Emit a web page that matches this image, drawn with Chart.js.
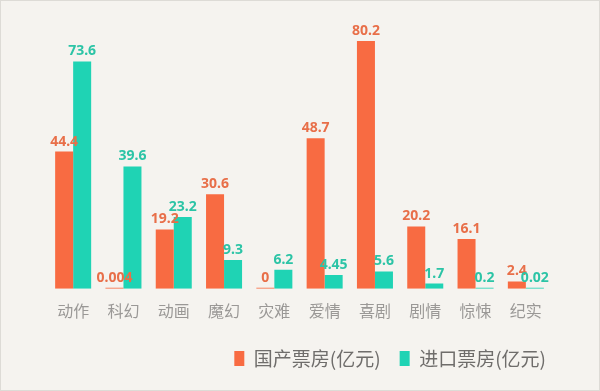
<!DOCTYPE html>
<html>
<head>
<meta charset="utf-8">
<script src="https://cdn.jsdelivr.net/npm/chart.js@4/dist/chart.umd.min.js"></script>
<style>
  html, body { margin: 0; padding: 0; background: #f5f3ef; }
  #wrap { width: 598px; height: 389px; border: 1px solid #dddbd6; background: #f5f3ef; }
</style>
</head>
<body>
<div id="wrap"><canvas id="bar-chart" width="598" height="389"></canvas></div>
<script>
// categories and box office values (100 million yuan)
var genres = ['动作', '科幻', '动画', '魔幻', '灾难', '爱情', '喜剧', '剧情', '惊悚', '纪实'];
var domestic = [44.4, 0.004, 19.2, 30.6, 0, 48.7, 80.2, 20.2, 16.1, 2.4];
var imported = [73.6, 39.6, 23.2, 9.3, 6.2, 4.45, 5.6, 1.7, 0.2, 0.02];
var domesticLabels = ['44.4', '0.004', '19.2', '30.6', '0', '48.7', '80.2', '20.2', '16.1', '2.4'];
var importedLabels = ['73.6', '39.6', '23.2', '9.3', '6.2', '4.45', '5.6', '1.7', '0.2', '0.02'];

var orange = '#f86b42';
var teal = '#1fd3b4';

// draws value labels above every bar
var valueLabels = {
    id: 'valueLabels',
    afterDatasetsDraw: function(chart) {
        var ctx = chart.ctx;
        ctx.save();
        ctx.font = 'bold 14px "Noto Sans", "DejaVu Sans", sans-serif';
        ctx.textAlign = 'center';
        ctx.textBaseline = 'bottom';
        chart.data.datasets.forEach(function(ds, i) {
            var meta = chart.getDatasetMeta(i);
            meta.data.forEach(function(bar, j) {
                ctx.fillStyle = ds.labelColor;
                ctx.fillText(ds.valueText[j], bar.x, bar.y - 3);
            });
        });
        ctx.restore();
    }
};

var ctx = document.getElementById('bar-chart').getContext('2d');
var myChart = new Chart(ctx, {
    type: 'bar',
    data: {
        labels: genres,
        datasets: [{
            label: '国产票房(亿元)',
            data: domestic,
            valueText: domesticLabels,
            labelColor: '#e86f49',
            backgroundColor: orange,
            minBarLength: 1
        }, {
            label: '进口票房(亿元)',
            data: imported,
            valueText: importedLabels,
            labelColor: '#2cc4a6',
            backgroundColor: teal,
            minBarLength: 1
        }]
    },
    options: {
        responsive: false,
        animation: false,
        layout: { padding: { left: 47, right: 34, top: 19, bottom: 12 } },
        datasets: {
            bar: { categoryPercentage: 0.716, barPercentage: 1 }
        },
        scales: {
            x: {
                grid: { display: false },
                border: { display: false },
                ticks: {
                    color: '#9a9896',
                    padding: 5,
                    font: { size: 16, family: '"Noto Sans CJK SC", sans-serif' }
                },
                afterFit: function(scale) { scale.height += 4; }
            },
            y: {
                display: false,
                min: 0,
                max: 87
            },
            // empty right axis, only keeps the plot narrower than the legend
            y2: {
                position: 'right',
                grid: { display: false },
                border: { display: false },
                ticks: { display: false },
                afterFit: function(scale) { scale.width = 14; }
            }
        },
        plugins: {
            tooltip: { enabled: false },
            legend: {
                position: 'bottom',
                align: 'end',
                labels: {
                    color: '#6f6d6b',
                    boxWidth: 10,
                    boxHeight: 15,
                    padding: 19,
                    font: { size: 19, family: '"Noto Sans CJK SC", sans-serif' }
                }
            }
        }
    },
    plugins: [valueLabels]
});
</script>
</body>
</html>
